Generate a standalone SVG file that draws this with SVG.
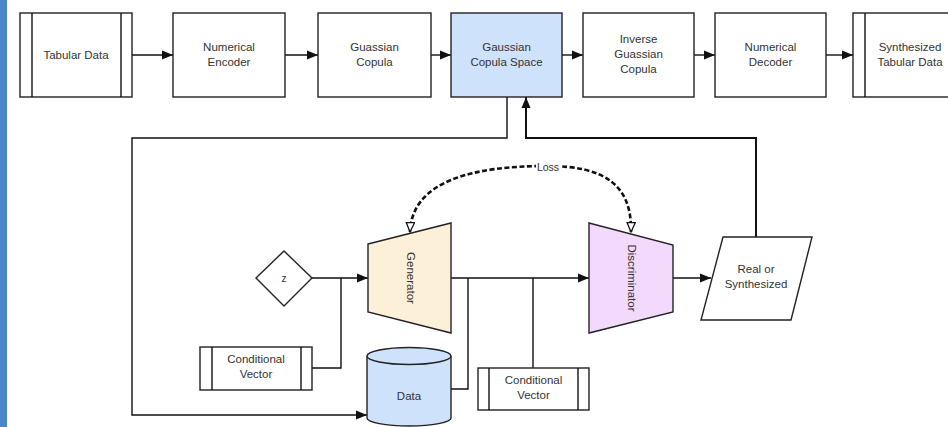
<svg xmlns="http://www.w3.org/2000/svg" width="948" height="427" viewBox="0 0 948 427">
<defs>
<style>
.box{fill:#fff;stroke:#222;stroke-width:1.4}
.t{font-family:"Liberation Sans",Arial,sans-serif;font-size:11.5px;fill:#333;text-anchor:middle}
.ln{fill:none;stroke:#111;stroke-width:1.4}
.thk{fill:none;stroke:#111;stroke-width:2}
.dash{fill:none;stroke:#111;stroke-width:2.6;stroke-dasharray:5 2.5}
</style>
<marker id="ah" markerUnits="userSpaceOnUse" markerWidth="12" markerHeight="10" refX="11" refY="5" orient="auto">
<path d="M0,0.5 L11,5 L0,9.5 Z" fill="#111"/>
</marker>
<marker id="oh" markerUnits="userSpaceOnUse" markerWidth="12" markerHeight="12" refX="10" refY="5" orient="auto">
<path d="M0.5,0.8 L10,5 L0.5,9.2 Z" fill="#fff" stroke="#111" stroke-width="1.3"/>
</marker>
</defs>
<rect x="0" y="0" width="948" height="427" fill="#fff"/>
<rect x="0" y="0" width="7" height="427" fill="#4a86c8"/>

<g id="connectors">
<line class="ln" x1="132" y1="55" x2="173" y2="55" marker-end="url(#ah)"/>
<line class="ln" x1="285" y1="55" x2="318" y2="55" marker-end="url(#ah)"/>
<line class="ln" x1="431" y1="55" x2="451" y2="55" marker-end="url(#ah)"/>
<line class="ln" x1="562" y1="55" x2="583" y2="55" marker-end="url(#ah)"/>
<line class="ln" x1="694" y1="55" x2="715" y2="55" marker-end="url(#ah)"/>
<line class="ln" x1="826" y1="55" x2="853" y2="55" marker-end="url(#ah)"/>
<polyline class="ln" points="507,97 507,138 132,138 132,415 367,415" marker-end="url(#ah)"/>
<polyline class="thk" points="756,237 756,138 526,138 526,97" marker-end="url(#ah)"/>
<line class="ln" x1="312" y1="278" x2="368" y2="278" marker-end="url(#ah)"/>
<polyline class="ln" points="312,368 341,368 341,278"/>
<line class="ln" x1="451" y1="278" x2="589" y2="278" marker-end="url(#ah)"/>
<polyline class="ln" points="451,389 468,389 468,278"/>
<line class="ln" x1="533" y1="278" x2="533" y2="368"/>
<line class="ln" x1="673" y1="278" x2="711" y2="278" marker-end="url(#ah)"/>
<path class="dash" d="M547,166 C475,166 412,180 410,232" marker-end="url(#oh)"/>
<path class="dash" d="M547,166 C605,166 632,185 631,232" marker-end="url(#oh)"/>
<rect x="536" y="161" width="24" height="10" fill="#fff"/>
<text class="t" x="548" y="171" style="font-size:10.5px">Loss</text>
</g>

<g id="tabular-data">
<rect class="box" x="20" y="13" width="112" height="84"/>
<line class="ln" x1="32" y1="13" x2="32" y2="97"/>
<line class="ln" x1="121" y1="13" x2="121" y2="97"/>
<text class="t" x="76" y="59">Tabular Data</text>
</g>
<g id="numerical-encoder">
<rect class="box" x="173" y="13" width="112" height="84"/>
<text class="t" x="229" y="51">Numerical</text>
<text class="t" x="229" y="66">Encoder</text>
</g>
<g id="guassian-copula">
<rect class="box" x="318" y="13" width="113" height="84"/>
<text class="t" x="374.5" y="51">Guassian</text>
<text class="t" x="374.5" y="66">Copula</text>
</g>
<g id="gaussian-copula-space">
<rect class="box" x="451" y="13" width="111" height="84" style="fill:#cfe2fb"/>
<text class="t" x="506.5" y="51">Gaussian</text>
<text class="t" x="506.5" y="66">Copula Space</text>
</g>
<g id="inverse-guassian-copula">
<rect class="box" x="583" y="13" width="111" height="84"/>
<text class="t" x="638.5" y="43">Inverse</text>
<text class="t" x="638.5" y="58">Guassian</text>
<text class="t" x="638.5" y="73">Copula</text>
</g>
<g id="numerical-decoder">
<rect class="box" x="715" y="13" width="111" height="84"/>
<text class="t" x="770.5" y="51">Numerical</text>
<text class="t" x="770.5" y="66">Decoder</text>
</g>
<g id="synthesized-tabular-data">
<rect class="box" x="853" y="13" width="112" height="84"/>
<line class="ln" x1="865" y1="13" x2="865" y2="97"/>
<text class="t" x="910" y="51">Synthesized</text>
<text class="t" x="910" y="66">Tabular Data</text>
</g>

<g id="z">
<polygon class="box" points="284,251 312,278 284,306 256,278"/>
<text class="t" x="284" y="282" style="font-size:10px">z</text>
</g>
<g id="generator">
<polygon class="box" points="368,244 451,223 451,333 368,312" style="fill:#fdf0d8"/>
<text class="t" transform="translate(407,278) rotate(90)">Generator</text>
</g>
<g id="discriminator">
<polygon class="box" points="589,223 673,245 673,312 589,333" style="fill:#f3dafc"/>
<text class="t" transform="translate(628,278) rotate(90)">Discriminator</text>
</g>
<g id="real-or-synthesized">
<polygon class="box" points="723,237 812,237 791,320 701,320"/>
<text class="t" x="756" y="273">Real or</text>
<text class="t" x="756" y="288">Synthesized</text>
</g>
<g id="conditional-vector-1">
<rect class="box" x="200" y="347" width="112" height="43"/>
<line class="ln" x1="212" y1="347" x2="212" y2="390"/>
<line class="ln" x1="301" y1="347" x2="301" y2="390"/>
<text class="t" x="256" y="363">Conditional</text>
<text class="t" x="256" y="378">Vector</text>
</g>
<g id="data">
<path class="box" d="M367,356 L367,418 A42,8 0 0 0 451,418 L451,356" style="fill:#cfe2fb"/>
<ellipse class="box" cx="409" cy="356" rx="42" ry="8.5" style="fill:#cfe2fb"/>
<text class="t" x="409" y="400">Data</text>
</g>
<g id="conditional-vector-2">
<rect class="box" x="478" y="368" width="111" height="42"/>
<line class="ln" x1="489" y1="368" x2="489" y2="410"/>
<line class="ln" x1="578" y1="368" x2="578" y2="410"/>
<text class="t" x="533.5" y="384">Conditional</text>
<text class="t" x="533.5" y="399">Vector</text>
</g>
</svg>
